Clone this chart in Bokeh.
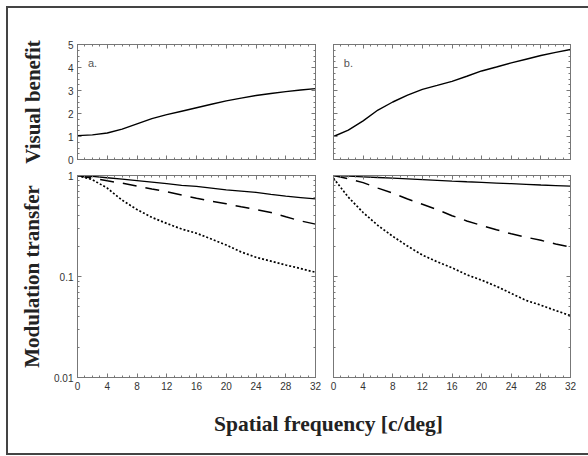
from bokeh.plotting import figure
from bokeh.models import (LinearAxis, LogAxis, Range1d, FixedTicker,
                          CustomJSTickFormatter, Label, InlineStyleSheet)
from bokeh.layouts import column, row
from bokeh.embed import file_html
from bokeh.resources import INLINE
from bokeh.core.properties import value

# ---------------- data ----------------
freq = [0, 2, 4, 6, 8, 10, 12, 14, 16, 18, 20, 22, 24, 26, 28, 30, 32]

benefit_a = [1.04, 1.07, 1.15, 1.32, 1.55, 1.78, 1.95, 2.10, 2.25, 2.40,
             2.55, 2.67, 2.78, 2.87, 2.95, 3.02, 3.08]
benefit_b = [1.00, 1.28, 1.68, 2.15, 2.50, 2.80, 3.05, 3.22, 3.40, 3.62,
             3.85, 4.02, 4.20, 4.36, 4.52, 4.66, 4.78]

mtf_a_solid = [1.0, 0.98, 0.95, 0.92, 0.89, 0.86, 0.83, 0.80, 0.78, 0.75,
               0.72, 0.70, 0.68, 0.65, 0.625, 0.605, 0.586]
mtf_a_dashed = [1.0, 0.94, 0.885, 0.84, 0.785, 0.735, 0.69, 0.64, 0.595,
                0.555, 0.525, 0.49, 0.46, 0.43, 0.39, 0.355, 0.33]
mtf_a_dotted = [1.0, 0.91, 0.75, 0.57, 0.46, 0.385, 0.335, 0.295, 0.268,
                0.235, 0.205, 0.175, 0.155, 0.142, 0.13, 0.12, 0.11]

mtf_b_solid = [1.0, 0.985, 0.97, 0.955, 0.94, 0.925, 0.91, 0.895, 0.88,
               0.867, 0.855, 0.842, 0.83, 0.817, 0.805, 0.795, 0.785]
mtf_b_dashed = [1.0, 0.93, 0.85, 0.75, 0.67, 0.585, 0.52, 0.46, 0.40,
                0.355, 0.32, 0.29, 0.265, 0.245, 0.228, 0.21, 0.196]
mtf_b_dotted = [0.94, 0.61, 0.43, 0.32, 0.25, 0.20, 0.163, 0.14, 0.122,
                0.104, 0.092, 0.08, 0.068, 0.058, 0.052, 0.046, 0.041]

x_major = [0, 4, 8, 12, 16, 20, 24, 28, 32]
benefit_major = [0, 1, 2, 3, 4, 5]
mtf_major = [0.01, 0.1, 1]

panel_letters = ["a.", "b."]

# ---------------- styling helpers ----------------
AX_COLOR = "#777777"
TICK_FONT = "Liberation Sans"
TITLE_FONT = "Liberation Serif"

x_minor = list(range(0, 33))
benefit_minor = [i * 0.25 for i in range(0, 21)]
mtf_minor = [m * 10.0 ** e for e in (-2, -1) for m in range(1, 10)] + [1.0]

logfmt = CustomJSTickFormatter(code="return parseFloat(tick.toPrecision(2)).toString()")


def style_axis(ax, ticker, show_labels, formatter=None):
    ax.ticker = ticker
    ax.axis_line_color = AX_COLOR
    ax.axis_line_width = 1
    ax.major_tick_line_color = AX_COLOR
    ax.minor_tick_line_color = AX_COLOR
    ax.major_tick_in = 4
    ax.major_tick_out = 0
    ax.minor_tick_in = 2
    ax.minor_tick_out = 0
    ax.major_label_text_font = TICK_FONT
    ax.major_label_text_font_size = "10px"
    ax.major_label_text_color = "#333333"
    ax.major_label_standoff = 4
    if not show_labels:
        ax.formatter = CustomJSTickFormatter(code="return ''")
        ax.major_label_standoff = 0
    elif formatter is not None:
        ax.formatter = formatter


def make_panel(width, height, mb, log, show_y, show_x):
    y_rng = Range1d(0.01, 1) if log else Range1d(0, 5)
    p = figure(width=width, height=height, x_range=Range1d(0, 32),
               y_range=y_rng, y_axis_type="log" if log else "linear",
               output_backend="svg", toolbar_location=None,
               min_border_left=mb[0], min_border_right=mb[1],
               min_border_top=mb[2], min_border_bottom=mb[3])
    p.grid.visible = False
    p.outline_line_color = AX_COLOR
    p.background_fill_color = "white"
    p.border_fill_color = "white"
    xt = FixedTicker(ticks=x_major, minor_ticks=x_minor)
    if log:
        yt = FixedTicker(ticks=mtf_major, minor_ticks=mtf_minor)
    else:
        yt = FixedTicker(ticks=benefit_major, minor_ticks=benefit_minor)
    style_axis(p.xaxis[0], xt, show_x)
    style_axis(p.yaxis[0], yt, show_y, logfmt if log else None)
    top = LinearAxis()
    style_axis(top, FixedTicker(ticks=x_major, minor_ticks=x_minor), False)
    p.add_layout(top, "above")
    right = LogAxis() if log else LinearAxis()
    yt2 = FixedTicker(ticks=mtf_major if log else benefit_major,
                      minor_ticks=mtf_minor if log else benefit_minor)
    style_axis(right, yt2, False)
    p.add_layout(right, "right")
    return p


def set_ylabel(p, text, standoff):
    ax = p.yaxis[0]
    ax.axis_label = text
    ax.axis_label_text_font = TITLE_FONT
    ax.axis_label_text_font_style = "bold"
    ax.axis_label_text_font_size = "21px"
    ax.axis_label_text_color = "#222222"
    ax.axis_label_standoff = standoff


LEFT_W, RIGHT_W = 316, 252
TOP_H, BOT_H = 159, 228
mb_left_top = (69, 9, 36, 8)
mb_right_top = (9, 6, 36, 8)
mb_left_bot = (69, 9, 8, 18)
mb_right_bot = (9, 6, 8, 18)

# top panels: visual benefit
ta = make_panel(LEFT_W, TOP_H, mb_left_top, False, True, False)
tb = make_panel(RIGHT_W, TOP_H, mb_right_top, False, False, False)
ta.line(freq, benefit_a, line_color="black", line_width=1.4)
tb.line(freq, benefit_b, line_color="black", line_width=1.4)
set_ylabel(ta, "Visual benefit", 20)

for p, letter in zip((ta, tb), panel_letters):
    p.text(x=[1.4], y=[4.45], text=[letter], text_baseline="top",
           text_align="left", text_font=value(TICK_FONT),
           text_font_size="11px", text_color="#555555")

# bottom panels: modulation transfer
ba = make_panel(LEFT_W, BOT_H, mb_left_bot, True, True, True)
bb = make_panel(RIGHT_W, BOT_H, mb_right_bot, True, False, True)
for p, s, d, o in ((ba, mtf_a_solid, mtf_a_dashed, mtf_a_dotted),
                   (bb, mtf_b_solid, mtf_b_dashed, mtf_b_dotted)):
    p.line(freq, s, line_color="black", line_width=1.3)
    p.line(freq, d, line_color="black", line_width=1.5, line_dash="14 9")
    p.line(freq, o, line_color="black", line_width=1.7, line_dash="2 2")
set_ylabel(ba, "Modulation transfer", 7)

# bottom label row
LAB_W, LAB_H = 580, 58
lab = figure(width=LAB_W, height=LAB_H, x_range=Range1d(0, LAB_W),
             y_range=Range1d(0, LAB_H), output_backend="svg",
             toolbar_location=None, min_border=0,
             x_axis_location=None, y_axis_location=None)
lab.grid.visible = False
lab.outline_line_color = None
lab.add_layout(Label(x=320, y=30, text="Spatial frequency [c/deg]",
                     text_align="center", text_baseline="middle",
                     text_font=TITLE_FONT, text_font_style="bold",
                     text_font_size="21.5px", text_color="#222222"))

frame_css = InlineStyleSheet(css="""
:host {
  margin: 6px 0 0 6px !important;
  border-top: 2px solid #444444 !important;
  border-left: 2px solid #444444 !important;
  border-bottom: 2px solid #444444 !important;
  border-right: 0 none transparent !important;
  background-color: white;
}
""")

layout = column(row(ta, tb), row(ba, bb), lab, stylesheets=[frame_css])

open("out.html", "w").write(file_html(layout, INLINE))
